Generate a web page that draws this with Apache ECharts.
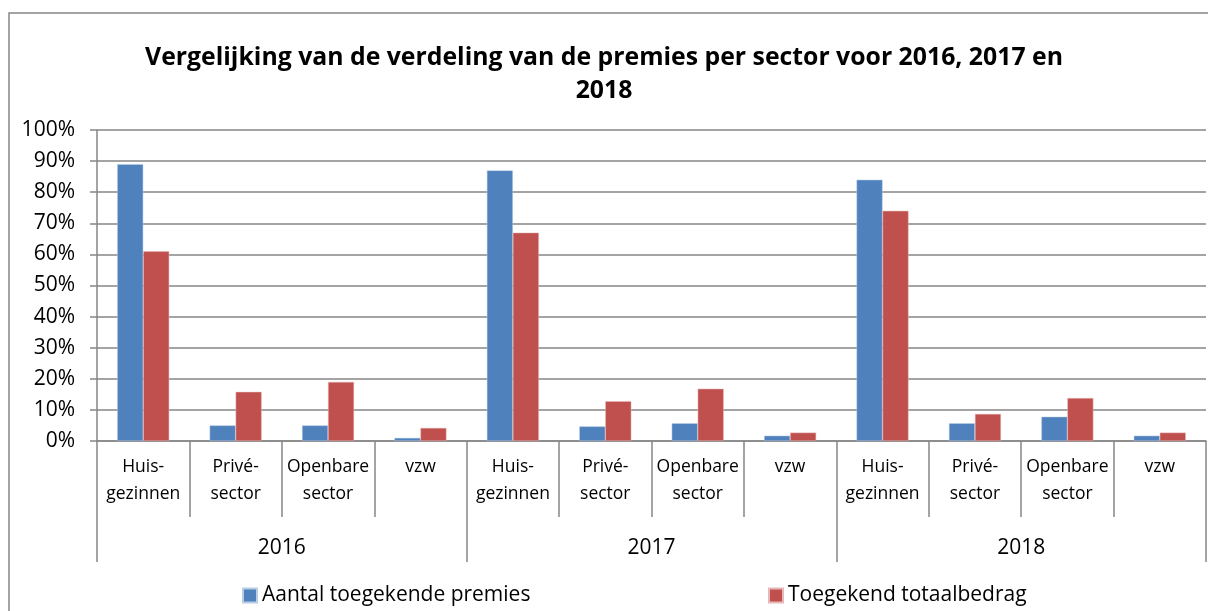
<!DOCTYPE html>
<html>
<head>
<meta charset="utf-8">
<script src="https://cdn.jsdelivr.net/npm/echarts@6/dist/echarts.min.js"></script>
<style>
  html, body { margin: 0; padding: 0; background: #fff; }
  #chart { width: 1208px; height: 611px; }
</style>
</head>
<body>
<div id="chart"></div>
<script>
const sectors = [
  "Huis-\ngezinnen", "Privé-\nsector", "Openbare\nsector", "vzw",
  "Huis-\ngezinnen", "Privé-\nsector", "Openbare\nsector", "vzw",
  "Huis-\ngezinnen", "Privé-\nsector", "Openbare\nsector", "vzw"
];
const years = ["2016", "2017", "2018"];
const aantalPremies = [89, 5, 5, 1, 87, 4.7, 5.7, 1.7, 84, 5.7, 7.8, 1.7];
const totaalBedrag = [61, 15.8, 19, 4.2, 67, 12.8, 16.8, 2.7, 74, 8.7, 13.8, 2.7];
const yTicks = [0, 10, 20, 30, 40, 50, 60, 70, 80, 90, 100];

const font = "Open Sans";
const grey = "#868686";

const chart = echarts.init(document.getElementById("chart"));
chart.setOption({
  animation: false,
  textStyle: { fontFamily: font, color: "#000" },
  title: {
    text: "Vergelijking van de verdeling van de premies per sector voor 2016, 2017 en\n2018",
    left: "center",
    top: 36,
    textStyle: { fontFamily: font, fontSize: 24.8, fontWeight: "bold", color: "#000", lineHeight: 33 }
  },
  graphic: [{
    type: "rect",
    z: -1,
    shape: { x: 9, y: 13, width: 1300, height: 700 },
    style: { fill: null, stroke: grey, lineWidth: 1.5 }
  }],
  legend: [
    {
      data: ["Aantal toegekende premies"],
      left: 237, top: 580,
      icon: "rect", itemWidth: 14, itemHeight: 14, itemGap: 7,
      textStyle: { fontFamily: font, fontSize: 21, color: "#000" }
    },
    {
      data: ["Toegekend totaalbedrag"],
      left: 763, top: 580,
      icon: "rect", itemWidth: 14, itemHeight: 14, itemGap: 7,
      textStyle: { fontFamily: font, fontSize: 21, color: "#000" }
    }
  ],
  grid: { left: 97, right: 2, top: 130, bottom: 170 },
  xAxis: [
    {
      type: "category",
      data: sectors,
      position: "bottom",
      axisLine: { lineStyle: { color: grey, width: 1.5 } },
      axisTick: { show: true, interval: 0, alignWithLabel: false, length: 76, lineStyle: { color: grey, width: 1.5 } },
      axisLabel: { interval: 0, margin: 13, fontSize: 17.5, lineHeight: 27, color: "#000", fontFamily: font }
    },
    {
      type: "category",
      data: years,
      position: "bottom",
      axisLine: { show: false },
      axisTick: { show: true, interval: 0, alignWithLabel: false, length: 121, lineStyle: { color: grey, width: 1.5 } },
      axisLabel: { interval: 0, margin: 97, fontSize: 21, color: "#000", fontFamily: font }
    }
  ],
  yAxis: {
    type: "value",
    min: yTicks[0],
    max: yTicks[yTicks.length - 1],
    interval: 10,
    axisLine: { show: true, lineStyle: { color: grey, width: 1.5 } },
    axisTick: { show: true, inside: false, length: 7, lineStyle: { color: grey, width: 1.5 } },
    splitLine: { lineStyle: { color: grey, width: 1.5 } },
    axisLabel: { formatter: "{value}%", margin: 22, fontSize: 21, color: "#000", fontFamily: font }
  },
  series: [
    {
      name: "Aantal toegekende premies",
      type: "bar",
      data: aantalPremies,
      barWidth: 26,
      barGap: "0%",
      itemStyle: { color: "#4F81BD", borderColor: "#B9CDE5", borderWidth: 0.5 }
    },
    {
      name: "Toegekend totaalbedrag",
      type: "bar",
      data: totaalBedrag,
      barWidth: 26,
      barGap: "0%",
      itemStyle: { color: "#C0504D", borderColor: "#E6B9B8", borderWidth: 0.5 }
    }
  ]
});
</script>
</body>
</html>
